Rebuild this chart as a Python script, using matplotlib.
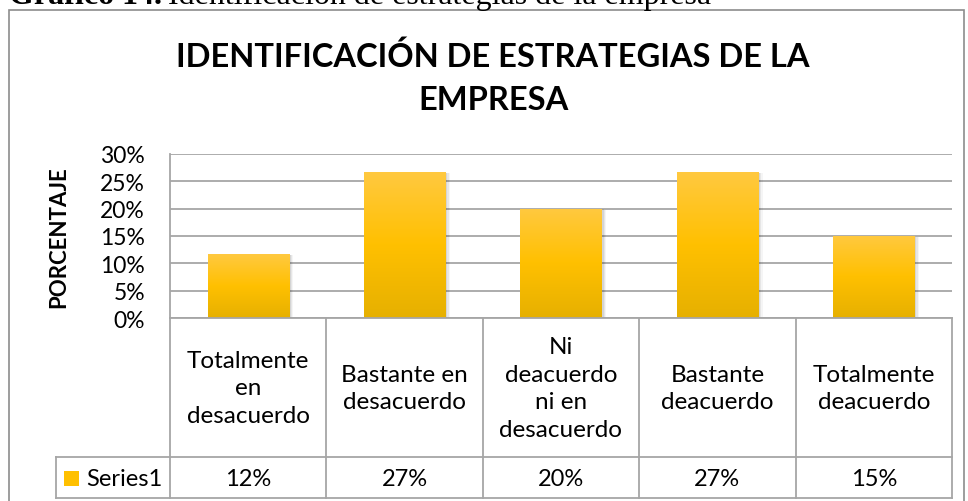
import matplotlib
matplotlib.use("Agg")
import matplotlib.pyplot as plt
import numpy as np
from matplotlib.lines import Line2D
from matplotlib.patches import Rectangle
from matplotlib.colors import LinearSegmentedColormap

# datos del gráfico
categorias = ["Totalmente\nen\ndesacuerdo", "Bastante en\ndesacuerdo",
              "Ni\ndeacuerdo\nni en\ndesacuerdo", "Bastante\ndeacuerdo",
              "Totalmente\ndeacuerdo"]
valores = [0.1167, 0.2667, 0.20, 0.2667, 0.15]
serie = "Series1"
yticks = [0, 0.05, 0.10, 0.15, 0.20, 0.25, 0.30]

W, H = 968, 502
fig = plt.figure(figsize=(W / 100, H / 100), dpi=100)
plt.rcParams['font.family'] = ['Lato', 'DejaVu Sans']

def fx(x):
    return x / W

def fy(y):
    return 1 - y / H

gris = "#A6A6A6"

# área del gráfico (pixeles)
x0, x1 = 170, 952
y_top, y_cero = 155, 319
ax = fig.add_axes([fx(x0), fy(y_cero), fx(x1 - x0), (y_cero - y_top) / H])
ax.set_yticks(yticks)
ax.set_yticklabels([f"{int(round(t * 100))}%" for t in yticks], fontsize=16.5)
ax.tick_params(axis="y", length=0, pad=18)
ax.set_xticks([])
for s in ["top", "right", "bottom"]:
    ax.spines[s].set_visible(False)
ax.spines["left"].set_color(gris)
ax.spines["left"].set_linewidth(1.3)
for t in yticks:
    ax.axhline(t, color=gris, lw=1.3, zorder=1)

# barras con degradado y sombra
cmap = LinearSegmentedColormap.from_list("oro", ["#E6B000", "#FFC000", "#FFC940"])
grad = np.linspace(0, 1, 256).reshape(-1, 1)
ancho = 0.52
for i, v in enumerate(valores):
    for k, a in enumerate([0.10, 0.08, 0.06, 0.04]):
        sh = Rectangle((i - ancho / 2 + 0.005 + k * 0.004, -0.001 - k * 0.0004),
                       ancho + k * 0.004, v, color="#000000", alpha=a, lw=0, zorder=2)
        ax.add_patch(sh)
    im = ax.imshow(grad, cmap=cmap, origin="lower", aspect="auto",
                   extent=(i - ancho / 2, i + ancho / 2, 0, v), zorder=3)
    rect = Rectangle((i - ancho / 2, 0), ancho, v, transform=ax.transData)
    im.set_clip_path(rect)
ax.set_xlim(-0.5, len(valores) - 0.5)
ax.set_ylim(0, 0.30)

ax.set_ylabel("PORCENTAJE", fontsize=16, fontweight="bold")
ax.yaxis.set_label_coords((69 - x0) / (x1 - x0), 0.5)

# tabla de datos debajo
col_w = (x1 - x0) / len(valores)
y_sep, y_fin = 458, 499
leg_x = 56

def linea(xa, ya, xb, yb):
    fig.add_artist(Line2D([fx(xa), fx(xb)], [fy(ya), fy(yb)], color=gris, lw=1.3))

linea(x0, y_cero, x1, y_cero)
linea(leg_x, y_sep, x1, y_sep)
linea(leg_x, y_fin, x1, y_fin)
linea(leg_x, y_sep, leg_x, y_fin)
for i in range(len(valores) + 1):
    linea(x0 + i * col_w, y_cero, x0 + i * col_w, y_fin)

for i, (c, v) in enumerate(zip(categorias, valores)):
    xc = x0 + (i + 0.5) * col_w
    fig.text(fx(xc), fy(389), c, ha="center", va="center", fontsize=17.5,
             linespacing=1.38)
    fig.text(fx(xc), fy(480), f"{round(v * 100):.0f}%", ha="center", va="center",
             fontsize=17)

fig.add_artist(Rectangle((fx(64), fy(487)), fx(15), 15 / H, color="#FFC000", lw=0))
fig.text(fx(86), fy(480), serie, ha="left", va="center", fontsize=17)

# título
fig.text(fx(493), fy(57), "IDENTIFICACIÓN DE ESTRATEGIAS DE LA", ha="center",
         va="center", fontsize=23.5, fontweight="bold")
fig.text(fx(493), fy(101), "EMPRESA", ha="center", va="center", fontsize=23.5,
         fontweight="bold")

# marco del gráfico
fig.add_artist(Rectangle((fx(9), fy(520)), fx(964 - 9), (520 - 11) / H, fill=False,
                         ec="#8C8C8C", lw=1.2))

# leyenda del documento (cortada arriba)
r = fig.canvas.get_renderer()
t1 = fig.text(fx(9), fy(4), "Gráfico 14.", family="Liberation Serif",
              fontweight="bold", fontsize=23, va="baseline")
bb = t1.get_window_extent(r)
fig.text(fx(bb.x1 + 6), fy(4), "Identificación de estrategias de la empresa",
         family="Liberation Serif", fontsize=23, va="baseline")

fig.savefig("out.png", dpi=100)
